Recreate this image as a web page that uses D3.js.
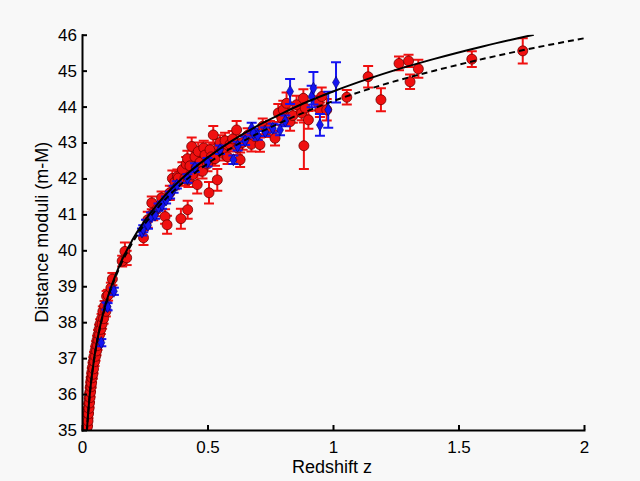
<!DOCTYPE html>
<html lang="en">
<head>
<meta charset="UTF-8">
<title>Hubble diagram</title>
<script src="https://d3js.org/d3.v7.min.js"></script>
<style>
  html, body { margin: 0; padding: 0; background: #f8f8f8; }
  svg { display: block; font-family: "Liberation Sans", Arial, sans-serif; }
  .axis path, .axis line { stroke: #000; stroke-width: 2; }
  .axis text { font-size: 17px; fill: #000; }
</style>
</head>
<body>
<div id="chart"></div>
<script>
// tick values
const xTicks = [0, 0.5, 1, 1.5, 2];
const yTicks = [35, 36, 37, 38, 39, 40, 41, 42, 43, 44, 45, 46];

// model curves (redshift, distance modulus)
const solidZ  = [0.015, 0.02, 0.03, 0.05, 0.075, 0.1, 0.15, 0.2, 0.3, 0.4, 0.5, 0.6, 0.7, 0.8, 0.9, 1.0, 1.2, 1.4, 1.6, 1.8];
const solidMu = [34.38, 35.02, 35.92, 37.06, 37.98, 38.64, 39.59, 40.28, 41.28, 42.01, 42.58, 43.06, 43.47, 43.82, 44.14, 44.42, 44.91, 45.32, 45.68, 46.0];
const dashZ   = [0.015, 0.02, 0.03, 0.05, 0.075, 0.1, 0.15, 0.2, 0.3, 0.4, 0.5, 0.6, 0.7, 0.8, 0.9, 1.0, 1.2, 1.4, 1.6, 1.8, 2.0];
const dashMu  = [34.38, 35.02, 35.91, 37.04, 37.95, 38.60, 39.53, 40.20, 41.17, 41.87, 42.41, 42.87, 43.25, 43.58, 43.88, 44.15, 44.61, 44.99, 45.33, 45.63, 45.90];

// red supernovae: [z, mu, error]
const redPoints = [
  [0.014, 34.7, 0.15], [0.015, 34.9, 0.15], [0.016, 34.6, 0.15], [0.017, 35.1, 0.14],
  [0.018, 34.85, 0.14], [0.019, 35.2, 0.14], [0.02, 34.95, 0.14], [0.021, 35.3, 0.13],
  [0.022, 35.1, 0.13], [0.023, 35.45, 0.13], [0.024, 35.25, 0.13], [0.025, 35.6, 0.12],
  [0.026, 35.45, 0.12], [0.027, 35.75, 0.12], [0.028, 35.6, 0.12], [0.029, 35.9, 0.12],
  [0.03, 35.75, 0.12], [0.031, 36.05, 0.12], [0.032, 35.9, 0.12], [0.033, 36.2, 0.12],
  [0.034, 36.05, 0.12], [0.035, 36.35, 0.12], [0.036, 36.2, 0.12], [0.037, 36.45, 0.12],
  [0.038, 36.3, 0.12], [0.039, 36.6, 0.12], [0.04, 36.45, 0.12], [0.042, 36.75, 0.12],
  [0.043, 36.55, 0.12], [0.045, 36.9, 0.12], [0.046, 36.7, 0.12], [0.048, 37.05, 0.12],
  [0.05, 36.9, 0.12], [0.052, 37.2, 0.12], [0.054, 37.05, 0.12], [0.056, 37.35, 0.12],
  [0.058, 37.2, 0.12], [0.06, 37.5, 0.12], [0.062, 37.35, 0.12], [0.064, 37.65, 0.13],
  [0.066, 37.5, 0.13], [0.068, 37.8, 0.13], [0.07, 37.65, 0.13], [0.072, 37.95, 0.13],
  [0.075, 37.8, 0.13], [0.078, 38.1, 0.13], [0.08, 37.95, 0.13], [0.083, 38.3, 0.14],
  [0.086, 38.1, 0.14], [0.09, 38.45, 0.14], [0.095, 38.3, 0.14], [0.098, 38.72, 0.15],
  [0.104, 38.75, 0.15], [0.115, 38.95, 0.15], [0.121, 39.2, 0.17], [0.16, 39.7, 0.15],
  [0.171, 39.97, 0.25], [0.178, 39.79, 0.2],
  [0.245, 40.35, 0.2], [0.262, 40.85, 0.22], [0.278, 41.32, 0.18], [0.284, 41.04, 0.2],
  [0.30, 41.15, 0.2], [0.317, 41.46, 0.18], [0.331, 40.94, 0.2], [0.339, 40.71, 0.25],
  [0.35, 41.6, 0.2], [0.36, 42.0, 0.22], [0.37, 41.9, 0.2], [0.38, 42.05, 0.2],
  [0.384, 42.01, 0.2], [0.394, 40.88, 0.28], [0.40, 42.25, 0.2], [0.41, 42.0, 0.2],
  [0.415, 42.4, 0.2], [0.42, 42.55, 0.22], [0.421, 41.13, 0.25], [0.424, 41.96, 0.2],
  [0.43, 42.35, 0.2], [0.437, 42.89, 0.25], [0.44, 42.1, 0.2], [0.45, 42.6, 0.2],
  [0.455, 42.3, 0.2], [0.459, 41.83, 0.25], [0.463, 42.75, 0.25], [0.47, 42.45, 0.2],
  [0.48, 42.2, 0.2], [0.485, 42.85, 0.2], [0.49, 42.65, 0.22], [0.5, 42.4, 0.2],
  [0.506, 41.6, 0.3], [0.51, 42.8, 0.2], [0.515, 42.6, 0.2], [0.523, 43.21, 0.25],
  [0.53, 42.55, 0.2], [0.539, 41.96, 0.3], [0.545, 42.9, 0.2], [0.55, 43.0, 0.2],
  [0.56, 42.7, 0.2], [0.57, 43.05, 0.22], [0.58, 42.6, 0.2], [0.59, 42.95, 0.2],
  [0.6, 43.1, 0.22], [0.616, 43.35, 0.25], [0.62, 42.85, 0.2], [0.63, 42.52, 0.2],
  [0.64, 43.0, 0.2], [0.66, 43.2, 0.2], [0.675, 42.95, 0.2], [0.689, 43.17, 0.2],
  [0.709, 42.94, 0.2], [0.72, 43.45, 0.22], [0.736, 43.35, 0.2], [0.749, 43.4, 0.2],
  [0.769, 43.12, 0.2], [0.782, 43.82, 0.25], [0.796, 43.68, 0.2], [0.802, 43.91, 0.25],
  [0.815, 44.09, 0.3], [0.829, 43.58, 0.25], [0.84, 43.75, 0.2], [0.855, 44.05, 0.25],
  [0.875, 43.82, 0.2], [0.882, 44.23, 0.25], [0.884, 42.91, 0.65], [0.889, 43.96, 0.2],
  [0.902, 43.63, 0.25], [0.941, 44.09, 0.2], [0.948, 43.91, 0.2], [0.955, 44.28, 0.25],
  [0.975, 43.91, 0.3], [1.055, 44.26, 0.2], [1.14, 44.83, 0.3], [1.191, 44.19, 0.32],
  [1.263, 45.2, 0.19], [1.301, 45.27, 0.17], [1.307, 44.69, 0.2], [1.34, 45.05, 0.25],
  [1.553, 45.32, 0.22], [1.756, 45.55, 0.35]
];

// blue supernovae: [z, mu, error]
const bluePoints = [
  [0.077, 37.43, 0.1], [0.098, 38.45, 0.1], [0.102, 38.43, 0.1], [0.127, 38.86, 0.1],
  [0.239, 40.51, 0.1], [0.244, 40.6, 0.1], [0.255, 40.75, 0.1], [0.263, 40.7, 0.1],
  [0.275, 40.95, 0.1], [0.291, 40.98, 0.1], [0.305, 41.2, 0.1], [0.319, 41.26, 0.1],
  [0.335, 41.4, 0.1], [0.351, 41.54, 0.1], [0.365, 41.7, 0.1], [0.378, 41.82, 0.1],
  [0.42, 42.0, 0.12], [0.45, 42.3, 0.12], [0.5, 42.45, 0.12], [0.55, 42.8, 0.12],
  [0.603, 42.52, 0.12], [0.62, 42.9, 0.12], [0.65, 43.05, 0.12], [0.676, 43.4, 0.15],
  [0.683, 43.26, 0.12], [0.7, 43.2, 0.12], [0.73, 43.3, 0.12], [0.76, 43.4, 0.12],
  [0.789, 43.35, 0.15], [0.81, 43.6, 0.15], [0.829, 44.42, 0.35], [0.915, 44.28, 0.3],
  [0.922, 44.51, 0.45], [0.948, 43.49, 0.3], [0.981, 43.91, 0.5], [1.012, 44.67, 0.56]
];

const width = 640, height = 481;
const plot = {left: 82, right: 584, top: 34.7, bottom: 430};

const svg = d3.select("#chart").append("svg")
    .attr("width", width)
    .attr("height", height);

svg.append("rect").attr("width", width).attr("height", height).attr("fill", "#f8f8f8");

const x = d3.scaleLinear().domain([0, 2]).range([plot.left, plot.right]);
const y = d3.scaleLinear().domain([35, 46]).range([plot.bottom, plot.top]);

svg.append("clipPath").attr("id", "clip")
  .append("rect")
    .attr("x", plot.left).attr("y", plot.top)
    .attr("width", plot.right - plot.left).attr("height", plot.bottom - plot.top);

const g = svg.append("g").attr("clip-path", "url(#clip)");

const cap = 5;

function drawErrors(data, color) {
  const eg = g.append("g").attr("stroke", color).attr("stroke-width", 2).attr("fill", "none");
  data.forEach(d => {
    const cx = x(d[0]), y1 = y(d[1] + d[2]), y2 = y(d[1] - d[2]);
    eg.append("line").attr("x1", cx).attr("x2", cx).attr("y1", y1).attr("y2", y2);
    eg.append("line").attr("x1", cx - cap).attr("x2", cx + cap).attr("y1", y1).attr("y2", y1);
    eg.append("line").attr("x1", cx - cap).attr("x2", cx + cap).attr("y1", y2).attr("y2", y2);
  });
}

// red points
drawErrors(redPoints, "#f01010");
g.append("g").selectAll("circle")
  .data(redPoints)
  .join("circle")
    .attr("cx", d => x(d[0]))
    .attr("cy", d => y(d[1]))
    .attr("r", 5)
    .attr("fill", "#f01010")
    .attr("stroke", "#700000")
    .attr("stroke-width", 0.8);

// blue points
drawErrors(bluePoints, "#1414f0");
const diamond = d3.symbol().type(d3.symbolDiamond).size(42);
g.append("g").selectAll("path")
  .data(bluePoints)
  .join("path")
    .attr("d", diamond)
    .attr("transform", d => `translate(${x(d[0])},${y(d[1])})`)
    .attr("fill", "#1414f0")
    .attr("stroke", "#000066")
    .attr("stroke-width", 0.6);

// model curves
const line = d3.line()
    .x(d => x(d[0]))
    .y(d => y(d[1]))
    .curve(d3.curveMonotoneX);

g.append("path")
  .datum(dashZ.map((z, i) => [z, dashMu[i]]))
  .attr("d", line)
  .attr("fill", "none")
  .attr("stroke", "#000")
  .attr("stroke-width", 2)
  .attr("stroke-dasharray", "6,4");

g.append("path")
  .datum(solidZ.map((z, i) => [z, solidMu[i]]))
  .attr("d", line)
  .attr("fill", "none")
  .attr("stroke", "#000")
  .attr("stroke-width", 2);

// axes, ticks pointing inward
svg.append("g")
    .attr("class", "axis")
    .attr("transform", `translate(0,${plot.bottom})`)
    .call(d3.axisBottom(x).tickValues(xTicks).tickFormat(d3.format("")).tickSizeInner(-5).tickSizeOuter(0).tickPadding(11));

svg.append("g")
    .attr("class", "axis")
    .attr("transform", `translate(${plot.left},0)`)
    .call(d3.axisLeft(y).tickValues(yTicks).tickSizeInner(-5).tickSizeOuter(0).tickPadding(5));

svg.selectAll(".axis .domain").attr("stroke-linecap", "square");

// axis titles
svg.append("text")
    .attr("x", 332)
    .attr("y", 473)
    .attr("text-anchor", "middle")
    .attr("font-size", 18)
    .text("Redshift z");

svg.append("text")
    .attr("transform", `translate(48,${(plot.top + plot.bottom) / 2}) rotate(-90)`)
    .attr("text-anchor", "middle")
    .attr("font-size", 18)
    .text("Distance moduli (m-M)");
</script>
</body>
</html>
